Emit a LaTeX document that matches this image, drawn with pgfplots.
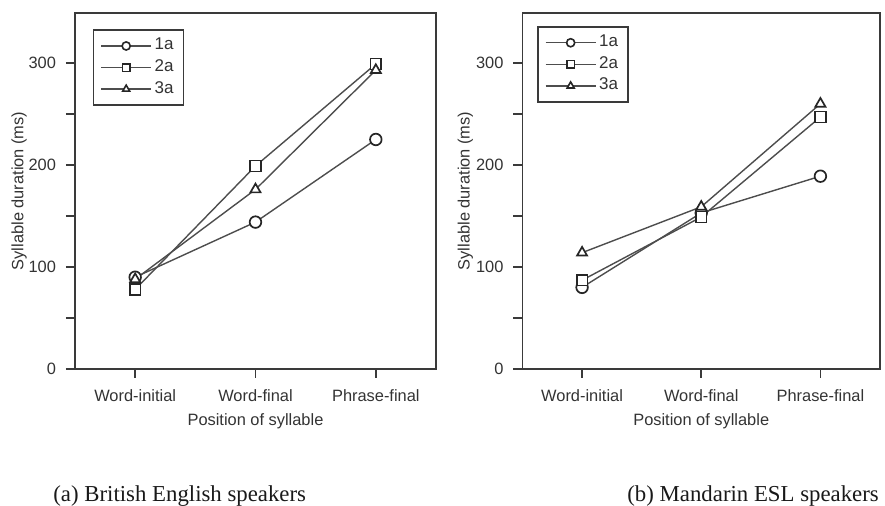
\documentclass[border=0pt]{standalone}
\usepackage{fontspec}
\setmainfont{Liberation Sans}
\newfontfamily\capfont{Liberation Serif}
\usepackage{pgfplots}
\pgfplotsset{compat=1.18}
\definecolor{lin}{HTML}{4D4D4D}
\definecolor{axc}{HTML}{3A3A3A}
\definecolor{txt}{HTML}{333333}
\definecolor{mk}{HTML}{262626}

\pgfplotsset{
  panel/.style={
    scale only axis, height=178pt,
    xmin=-0.5, xmax=2.5, ymin=0, ymax=349,
    xtick={0,1,2}, xticklabels={Word-initial,Word-final,Phrase-final},
    ytick={0,100,200,300}, minor ytick={50,150,250},
    xtick pos=bottom, ytick pos=left, tick align=outside,
    major tick length=4.5pt, minor tick length=4.5pt,
    axis line style={axc, line width=0.8pt},
    every tick/.style={axc, line width=0.8pt},
    tick label style={font=\fontsize{8.2}{10}\selectfont, text=txt},
    xticklabel style={yshift=-2.5pt},
    yticklabel style={xshift=-1.5pt},
    /pgf/number format/assume math mode=true,
    label style={font=\fontsize{8.2}{10}\selectfont, text=txt},
    xlabel={Position of syllable},
    ylabel={Syllable duration (ms)},
    xlabel style={at={(axis description cs:0.5,-0.148)}, anchor=center},
    legend cell align=left,
    legend style={anchor=north west, draw=axc, line width=0.8pt,
      font=\fontsize{8.5}{10}\selectfont, text=txt,
      inner xsep=3.5pt, inner ysep=2.5pt,
      nodes={inner sep=1.4pt, text height=6pt, text depth=2pt},
      /tikz/every even column/.append style={column sep=4pt}},
    legend image code/.code={
      \draw[#1, line width=0.7pt] (0pt,0pt) -- (25pt,0pt);
      \draw[#1, only marks, mark options={scale=0.7, draw=mk, fill=white, line width=0.8pt, solid}] plot coordinates {(12.5pt,0pt)};
    },
  },
  s1/.style={lin, line width=0.7pt, mark=*, mark size=2.9pt, mark options={draw=mk, fill=white, line width=0.85pt}},
  s2/.style={lin, line width=0.7pt, mark=square*, mark size=2.7pt, mark options={draw=mk, fill=white, line width=0.85pt}},
  s3/.style={lin, line width=0.7pt, mark=triangle*, mark size=2.9pt, mark options={draw=mk, fill=white, line width=0.85pt}},
}

\begin{document}
\begin{tikzpicture}
\path[use as bounding box] (0,0) rectangle (442.5pt,253pt);

\begin{axis}[panel, width=180.5pt, at={(37.5pt,68.5pt)}, anchor=south west,
  ylabel style={at={(axis description cs:-0.155,0.5)}, anchor=center},
  legend style={at={(axis description cs:0.049,0.954)}}]
\addplot[s1] coordinates {(0,90) (1,144) (2,225)};
\addplot[s2] coordinates {(0,78) (1,199) (2,299)};
\addplot[s3] coordinates {(0,88) (1,176) (2,293)};
\legend{1a,2a,3a}
\end{axis}

\begin{axis}[panel, width=178.75pt, at={(261.25pt,68.5pt)}, anchor=south west,
  ylabel style={at={(axis description cs:-0.16,0.5)}, anchor=center},
  legend style={at={(axis description cs:0.041,0.963)}}]
\addplot[s1] coordinates {(0,80) (1,153) (2,189)};
\addplot[s2] coordinates {(0,87) (1,149) (2,247)};
\addplot[s3] coordinates {(0,114) (1,159) (2,260)};
\legend{1a,2a,3a}
\end{axis}

\node[anchor=base west, inner sep=0pt, text=black!90, font=\capfont\fontsize{11.4}{13}\selectfont] at (26.5pt,2pt) {(a) British English speakers};
\node[anchor=base west, inner sep=0pt, text=black!90, font=\capfont\fontsize{11.4}{13}\selectfont] at (313.5pt,2pt) {(b) Mandarin ESL speakers};
\end{tikzpicture}
\end{document}
